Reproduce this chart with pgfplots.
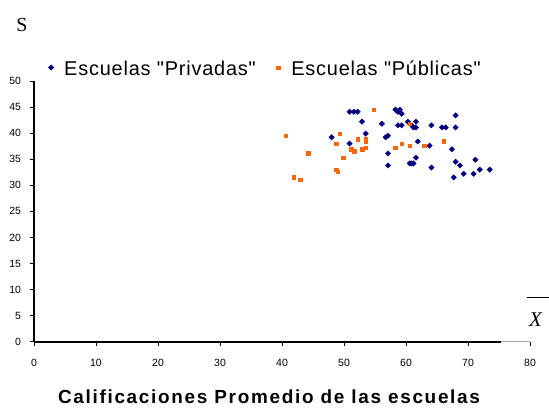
\documentclass[border=0pt]{standalone}
\usepackage{fontspec}
\setmainfont{Liberation Sans}[Ligatures=TeXOff]
\newfontfamily\timesfont{Liberation Serif}
\usepackage{pgfplots}
\pgfplotsset{compat=1.18}
\definecolor{navyb}{HTML}{000080}
\definecolor{orgp}{HTML}{FF6600}
\begin{document}
\begin{tikzpicture}[x=1bp,y=1bp]
\useasboundingbox (0,0) rectangle (549,407);
\begin{axis}[
  at={(34bp,65.3bp)}, anchor=south west,
  scale only axis, width=496bp, height=260.7bp,
  xmin=0, xmax=80, ymin=0, ymax=50,
  clip=false,
  axis lines=left,
  axis line style={-, line width=1.8bp, black},
  x axis line style={draw=none},
  xtick={0,10,...,80}, ytick={0,5,...,50},
  tick align=outside, major tick length=4.5bp,
  tick style={line width=1bp, black},
  /pgf/number format/assume math mode=true,
  tick label style={font=\fontsize{10.5}{12}\selectfont},
  xticklabel style={yshift=-9bp},
  yticklabel style={xshift=-5bp},
  legend columns=2,
  legend image code/.code={\path[draw=none,fill=none] (-2.5bp,0bp) -- (2.5bp,0bp);
    \draw[#1,overlay] plot coordinates {(0bp,1.5bp)};},
  legend style={at={(0.0292,1.046)}, anchor=west, draw=none, fill=none,
    inner sep=0pt, font=\fontsize{20}{24}\selectfont\addfontfeature{LetterSpace=4},
    nodes={inner xsep=0pt},
    /tikz/every odd column/.append style={column sep=10.5bp},
    /tikz/every even column/.append style={column sep=20bp}},
]
\addplot[only marks, mark=square*, mark size=1.9bp, color=navyb,
  mark options={rotate=45, draw=navyb, fill=navyb}] coordinates {
(48.0,39.2) (50.9,44.1) (51.6,44.1) (52.2,44.1) (50.9,38.0) (52.9,42.2)
(53.5,39.9) (56.1,41.8) (58.3,44.5) (59.0,44.5) (58.7,44.1) (59.3,43.7)
(60.3,42.2) (61.6,42.2) (58.7,41.5) (59.3,41.5) (60.9,41.5) (61.2,41.1)
(61.6,41.1) (64.1,41.5) (65.8,41.1) (66.4,41.1) (68.0,43.4) (68.0,41.1)
(56.7,39.2) (57.1,39.5) (61.9,38.4) (63.8,37.6) (67.4,36.9) (57.1,36.1)
(61.6,35.3) (68.0,34.5) (68.7,33.8) (71.2,34.9) (57.1,33.8) (60.6,34.2)
(60.9,34.2) (61.2,34.2) (64.1,33.4) (69.3,32.2) (70.9,32.2) (71.9,33.0)
(73.5,33.0) (67.7,31.5)
};
\addlegendentry{Escuelas "Privadas"}
\addplot[only marks, mark=square*, mark size=1.8bp, color=orgp,
  mark options={draw=orgp, fill=orgp}] coordinates {
(40.6,39.5) (41.9,31.5) (42.9,31.1) (44.2,36.1) (48.7,38.0) (48.7,33.0)
(49.0,32.6) (49.3,39.9) (49.9,35.3) (51.2,36.9) (51.6,36.5) (52.2,38.8)
(52.9,36.9) (53.5,38.8) (53.5,38.4) (53.5,37.2) (54.8,44.5) (58.3,37.2)
(59.3,38.0) (60.6,41.8) (60.6,37.6) (62.9,37.6) (66.1,38.4)
};
\addlegendentry{Escuelas "Públicas"}
\draw[line width=1.8bp, black] (axis cs:0,0) -- (axis cs:75.4,0);
\draw[line width=0.7bp, black!35] (axis cs:75.4,0) -- (axis cs:80,0);
\end{axis}
\node[font=\timesfont\fontsize{20}{24}\selectfont] at (22,382) {S};
\node[font=\timesfont\itshape\fontsize{21}{24}\selectfont] at (535.5,87.5) {X};
\draw[line width=1bp] (527,110) -- (549,110);
\node[font=\bfseries\fontsize{19}{22}\selectfont\addfontfeature{LetterSpace=9}, anchor=base] at (269,3.5) {Calificaciones Promedio de las escuelas};
\end{tikzpicture}
\end{document}
